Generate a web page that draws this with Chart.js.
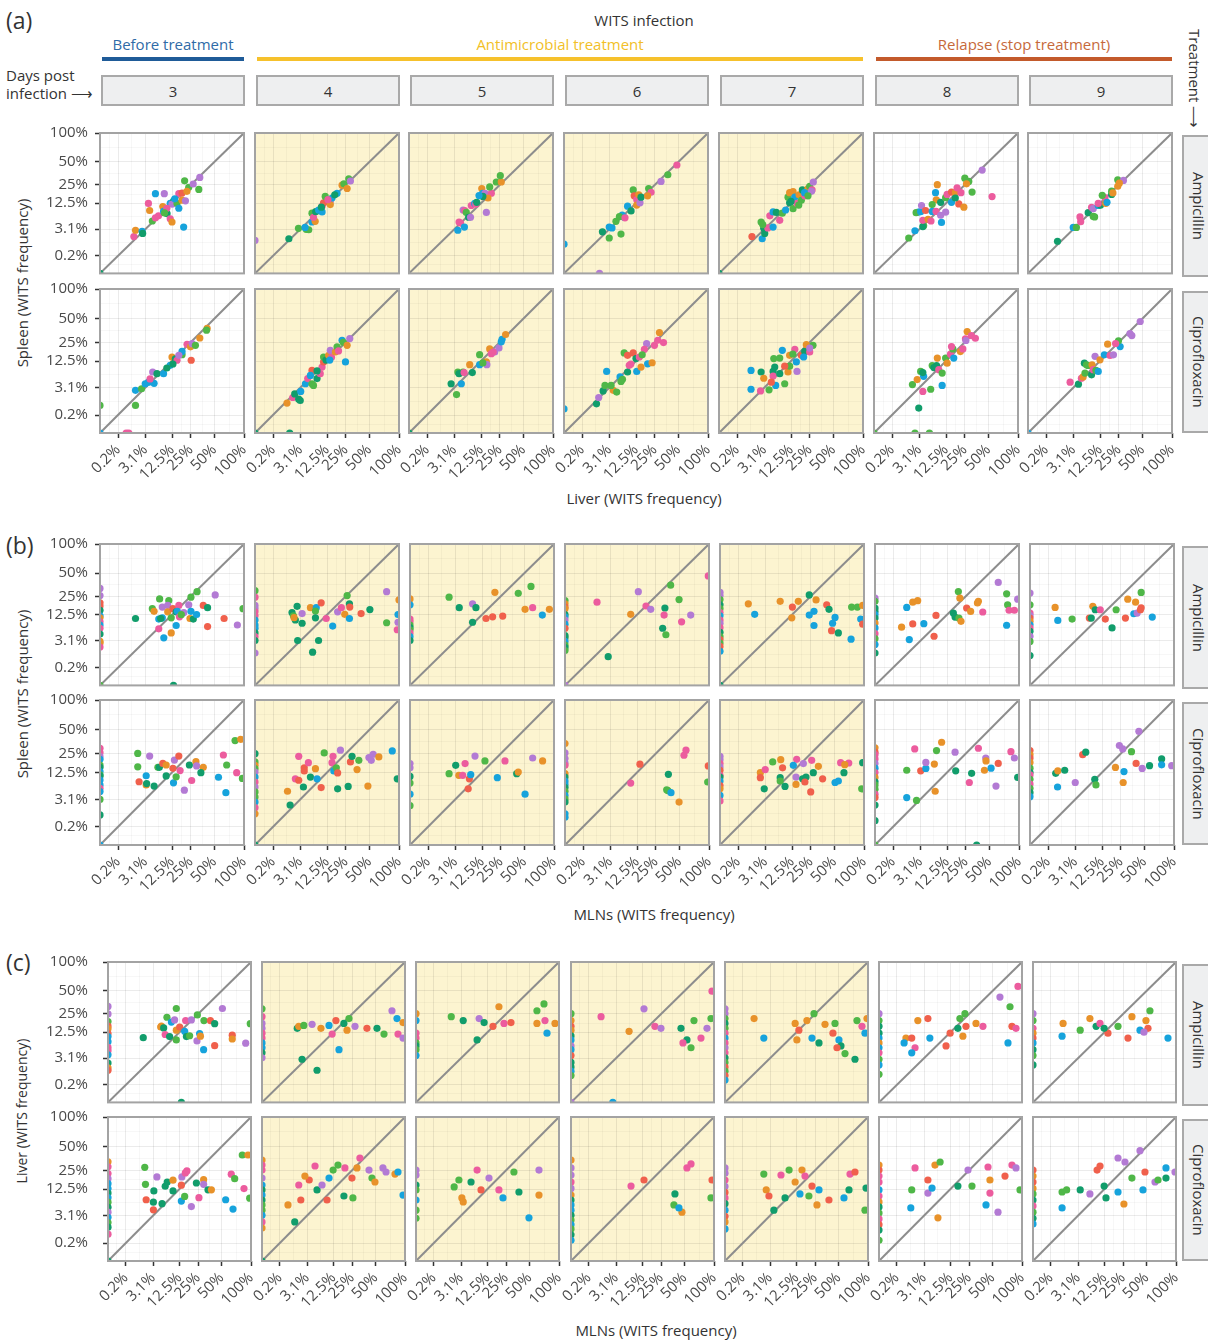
<!DOCTYPE html>
<html>
<head>
<meta charset="utf-8">
<script src="https://cdn.jsdelivr.net/npm/chart.js@4.4.1/dist/chart.umd.min.js"></script>
<style>
body { margin: 0; background: #fff; }
#fig { position: relative; width: 1208px; height: 1342px; overflow: hidden; font-family: 'Open Sans', sans-serif; color: #333; }
#fig canvas { position: absolute; }
.t { position: absolute; white-space: nowrap; line-height: 1; }
.strip { position: absolute; box-sizing: border-box; background: #eeeff0; border: 2px solid #a9a9a9; display: flex; align-items: center; justify-content: center; font-size: 15px; color: #333; }
.vert { writing-mode: vertical-rl; }
.bar { position: absolute; height: 4px; }
</style>
</head>
<body>
<div id="fig"></div>
<script>
// colour index per mouse
const R = 0, O = 1, G = 2, T = 3, B = 4, P = 5, K = 6;
const colors = ['#f0604c', '#e8922a', '#4fb748', '#119d6b', '#16a3dc', '#b37ad4', '#ec5c9e'];

const days = [3, 4, 5, 6, 7, 8, 9];
const treatments = ['Ampicillin', 'Ciprofloxacin'];
const tickFractions = [1/512, 1/32, 1/8, 1/4, 1/2, 1];
const tickLabels = ['0.2%', '3.1%', '12.5%', '25%', '50%', '100%'];

// (a) spleen vs liver, [liver %, spleen %, mouse]
const a_amp_d3 = [[0,0,T],[1.3,1.8,K],[1.5,2.9,O],[2.5,2.7,B],[2.6,2.3,T],[4.1,9,O],[3.8,12.4,K],[5.7,18.3,B],[8.9,18.3,P],[8.3,10.8,O],[4.8,5.2,G],[5.7,6.2,K],[6.7,6.9,K],[8.6,8.6,B],[10.1,7.7,T],[11.6,5.9,K],[12.5,4.9,O],[11.6,12.4,B],[13.4,13.8,T],[12.5,12,P],[15.3,12.4,G],[16.4,18.3,K],[18.5,18.7,R],[16.4,10,B],[18.5,14.2,O],[20.9,13.8,P],[19.6,3.6,B],[20.3,28.7,G],[23.4,23.1,G],[22,20,O],[27.1,25.8,P],[32.3,21.4,G],[33.3,31.9,P],[14,15,B],[10,10,K],[9,8,G]];
const a_amp_d4 = [[0,1.3,P],[1.3,1.5,T],[2.75,3.3,G],[4.5,3.1,G],[5.2,3.0,G],[4.2,3.5,B],[6.2,4.9,B],[7.3,5.1,O],[6.2,7.9,G],[6.7,6.4,K],[7.5,8.5,T],[8.6,9.2,B],[10.1,11,K],[10.8,12.7,R],[11.6,16.5,G],[14.3,13.6,P],[14.3,11.8,O],[15.3,15.5,B],[18.5,18.6,B],[17,17.5,T],[22.1,24.8,O],[23.5,26,G],[26.2,22.1,O],[27.6,30.6,G],[29.1,28.5,P],[13,14.5,K],[10.1,8.4,B],[9.8,10.5,T]];
const a_amp_d5 = [[3.9,2.9,B],[4.2,4.9,K],[4.6,4.6,K],[5.7,3.6,B],[5.3,9.2,P],[5.8,9,K],[6.3,8.2,G],[7.1,6.4,T],[7.8,6.4,P],[15.5,8.2,P],[8.1,11.3,K],[9.5,12.4,B],[10,12,K],[10.4,13,T],[12.9,22.1,O],[13.4,18.6,B],[14.7,18.6,P],[18.7,18.6,K],[16.5,15.5,O],[17.6,23.4,G],[22.3,27.6,G],[26.3,27.6,O],[25.5,33.7,G],[13.5,16.5,T],[11.5,17,B]];
const a_amp_d6 = [[0,0.9,B],[1.5,0,P],[1.9,2.6,T],[3.1,1.6,G],[3.1,3.6,B],[3.7,3.4,B],[6.2,2.2,G],[4.7,5.1,G],[6.6,7.2,B],[7.3,6.4,B],[5.7,6.6,G],[7.6,6.2,K],[8.6,11,B],[10.1,8.8,T],[11.1,21,G],[11.6,16.9,R],[12.9,14.5,K],[14,17.5,O],[12.9,11.5,O],[14.7,12.7,P],[15.3,16,T],[20.3,22.1,G],[22.1,19.3,K],[19.6,16.9,O],[30.6,28.1,P],[37.5,34.7,G],[48.2,46,K]];
const a_amp_d7 = [[0,0,T],[1.2,1.8,R],[2.7,1.5,B],[3.2,2.3,T],[3.0,3.3,T],[3.9,3.4,K],[2.5,4.9,G],[2.8,4.2,G],[5.3,3.6,B],[4.4,6.9,K],[5.3,8.4,B],[6.3,8.2,T],[7.5,5.4,K],[8.5,7.9,G],[9.9,9.2,B],[11.8,12.7,T],[13.6,9.8,G],[11,16,G],[11.8,19,O],[13.6,19.7,O],[14.6,16,B],[15.9,12.4,K],[17.2,17.5,O],[18.7,14.1,G],[19.4,21,T],[21.1,16.9,K],[23.6,22.1,O],[25,23.9,G],[21,19,B],[17,11.5,G],[27,21,K],[28.1,27.6,P],[26.5,20,P],[23.6,16.9,G],[12.5,13.5,T]];
const a_amp_d8 = [[1.4,1.6,G],[2.3,2.8,B],[4.1,3.9,G],[3.9,3.7,T],[2.9,8.3,B],[2.5,8.1,G],[3.4,8.5,B],[3.6,11.3,P],[4.6,9,R],[3.9,5.4,K],[5.3,5.7,O],[6.2,5.2,K],[7.8,19,B],[8.5,25.2,O],[8.1,14.4,O],[6.6,11.8,G],[6.6,8.6,B],[8,8.6,K],[9.9,13,T],[9.9,7.1,P],[10.3,4.8,B],[12.3,15.7,G],[13.1,17.8,K],[15.6,19.4,R],[12.3,8.3,P],[15.6,13,B],[18.1,19,O],[20.4,12.1,R],[18,15.5,T],[19.2,22.6,K],[24.3,10.5,O],[25.1,31.2,G],[28.5,28.1,G],[26.5,26,O],[31.6,19.4,G],[55.1,16.4,K],[42.4,39.9,P],[22,19,K]];
const a_amp_d9 = [[0.86,1.2,T],[3.1,3.5,B],[3.8,3.5,G],[4.9,5,K],[4.7,6.5,K],[7.3,8.1,T],[9.3,6.7,G],[9.9,6.5,G],[8.6,10.4,K],[9.3,9.8,P],[11.6,11.3,B],[12.8,11.5,T],[11.6,12.4,K],[15.3,15.7,K],[13.7,17.2,G],[15.7,12.4,O],[16.5,13,B],[19.6,17.8,T],[19.6,20.1,G],[20.5,18.8,O],[24.2,23.9,O],[24.2,29.7,G],[29.1,29,P],[25.5,26.5,O]];
const a_cip_d3 = [[0,0.7,G],[0,0,B],[0.6,0,K],[0.8,0,K],[1.5,0.7,G],[1.5,2.6,B],[2.4,2.9,G],[3.1,4.0,B],[3.8,4.4,B],[5.3,4.1,B],[4.2,5.3,K],[4.9,7.6,P],[6.2,7,T],[8.6,7,B],[11.6,10.4,B],[12.5,14.7,O],[10,9.2,T],[14.3,13.7,T],[15.3,12.9,K],[18.5,16.1,G],[18.5,18.2,B],[16.4,15.7,P],[25.4,12.9,R],[22.1,23.4,K],[24.8,21.4,O],[26.2,23.9,P],[29.1,22.6,G],[33.3,28.7,O],[41.2,38.3,O],[40.5,36.4,G],[13,11,T]];
const a_cip_d4 = [[0,0,T],[1.4,0,T],[1.1,0.9,O],[1.8,1.5,K],[2.1,2.0,T],[2.8,1.3,T],[3.1,1.15,T],[3.2,2.4,B],[4.3,4.0,B],[4.9,5.4,K],[6.2,8.2,R],[6.2,4.0,G],[6.7,3.6,G],[8,5.4,T],[5.7,6.4,B],[9.3,7,K],[10.1,9.6,K],[10.8,12,R],[10.8,14.7,G],[12,13,T],[13.4,15.7,O],[14.3,18.9,P],[15,14.5,K],[17.4,17.8,O],[18.5,21.4,G],[19.5,18.5,K],[22.1,26.7,B],[23,25,G],[26.2,22.6,O],[28.5,28.2,P],[24.8,12,B],[8,8,T],[14,13,B]];
const a_cip_d5 = [[0,0,T],[2.5,4.0,T],[3.6,1.9,G],[4.8,4.0,B],[3.9,7.6,G],[5.3,7.6,G],[4.2,7,T],[5.6,7.4,K],[8.5,7.4,T],[7.5,10.7,O],[11.8,10.7,B],[11.8,16.1,G],[15.5,12,O],[15.8,10.7,P],[13.5,11.5,G],[17.6,19.9,O],[18.7,16.7,K],[21.1,17.8,P],[24.4,20.6,P],[26.3,25.4,B],[27,27.5,B],[30.2,32,O],[20,17.8,K]];
const a_cip_d6 = [[0,0.47,B],[1.15,0.83,T],[1.4,1.5,P],[2.0,2.5,T],[2.3,3.6,G],[4.0,2.6,O],[4.9,2.3,G],[3.5,3.6,G],[2.6,7.8,B],[5.9,5.9,B],[6.7,5.2,G],[6.2,4.6,G],[8.6,7.6,T],[7.3,17.2,G],[8.6,15.7,R],[11.1,17.2,R],[9.3,10.4,K],[10,11,K],[12.5,13.8,T],[12.9,7.8,B],[15.3,9.6,O],[14.3,14.7,K],[18.9,23.9,P],[17.4,19.6,K],[19.6,11.1,B],[22.9,11.6,O],[24.8,22.6,K],[27.6,26.7,K],[29.1,34,O],[33,24.8,K],[16,16,G]];
const a_cip_d7 = [[1.1,8.2,B],[2.5,7.6,T],[3.0,5.5,O],[1.1,2.8,B],[2.4,2.5,K],[4.2,2.7,G],[5.3,7.8,T],[5.5,13.8,G],[5.8,9.6,T],[6.1,3.6,B],[5.3,6.2,K],[4.8,4.4,R],[7.5,14.1,G],[7.5,7,T],[9.5,4,G],[11,7.6,O],[11.8,10,G],[9.5,10,R],[8.5,18.9,B],[11.8,15.7,O],[15.5,12,B],[14.6,19.6,K],[13.5,16.5,G],[15.9,7.8,P],[18.7,15.7,R],[21.1,18.2,T],[22.3,23.1,O],[27.8,22.6,G],[25,17.8,K],[20.3,14.7,B],[25,20.5,P]];
const a_cip_d8 = [[0,0,G],[2.3,0,G],[5.7,0,G],[3.0,0.52,T],[10.6,3.6,B],[6.1,2.8,G],[3.9,2.4,K],[1.9,3.8,G],[2.7,5.1,O],[4.1,6.1,B],[3.4,7.8,G],[3.9,7.4,T],[6.6,10.3,G],[7.2,9.4,T],[8.2,10.3,T],[9.1,8.5,K],[10.6,7.2,G],[8.5,14.1,O],[12.3,14.1,G],[13.1,11.4,O],[15,16.4,K],[16.4,19.9,G],[15.6,21.6,K],[17,14.1,B],[21.6,18.1,O],[23.5,19.9,K],[27.1,34.9,O],[25.6,28,K],[26,26.5,P],[31,31,K],[34.9,28.5,K]];
const a_cip_d9 = [[0,0,B],[2.5,4.4,K],[4.3,3.9,T],[5.1,5.5,K],[5.6,5.9,O],[6.2,7.2,G],[6,11.4,T],[6.7,10.6,G],[7.3,10.3,G],[8.6,6.6,T],[8.8,10.6,O],[9.3,8.5,K],[10.1,15.1,P],[10.5,8.2,G],[11.6,7.8,B],[12.5,13.1,O],[14.9,16,B],[16.9,23.5,O],[18.5,15.6,K],[20.9,16,P],[26.2,21.6,B],[24.8,26.2,G],[22.5,24,K],[37.5,31,P],[35.5,33,P],[47.3,46.4,P]];

// (b) spleen vs MLNs, [MLN %, spleen %, mouse]
const b_amp_d3 = [[0,32.3,P],[0,25.6,P],[0,19.9,R],[0,17.7,R],[0,15,T],[0,11.9,B],[0,10.9,O],[0,9.1,K],[0,7.8,B],[0,6.6,K],[0,4.8,T],[0,3.0,O],[0,2.7,O],[0,2.0,K],[0,0,G],[1.5,10.6,T],[4.8,16,G],[5.3,14.4,O],[7.1,22.9,G],[10.9,21.6,G],[8.1,17,P],[10.4,18.1,P],[6.8,10.3,B],[8.1,10.9,B],[7.5,10.6,T],[6.8,6.4,K],[8.7,3.8,B],[12.1,5.1,O],[14.8,7.6,B],[10.4,14.1,O],[12.1,10.9,G],[13,16,R],[16.4,18.1,K],[14.8,14.1,T],[15.5,14.4,B],[16.8,11.4,K],[19.7,13.7,P],[18,12.5,G],[25.2,24.3,G],[23.4,18.5,P],[25.2,14.4,B],[24.4,10.6,O],[27.2,10.3,T],[30.2,12.6,B],[30.6,29.1,G],[36.9,18.1,R],[41.7,16.6,T],[51.2,26.2,P],[41.7,7.2,R],[64,10.6,R],[86.8,7.8,P],[98,16,G],[13.3,0,T]];
const b_amp_d4 = [[0,30.1,G],[0,24.3,K],[0,18.1,P],[0,16,P],[0,14.1,K],[0,11.9,K],[0,9.9,B],[0,7.8,B],[0,6.6,B],[0,5.1,T],[0,4.1,K],[0,3.2,T],[0,1.2,P],[1.7,13.7,T],[1.9,11.9,G],[2.2,9.9,T],[2.0,11,O],[2.5,17.5,T],[3.5,13.1,P],[3.5,8.5,T],[2.6,3.2,T],[6.4,1.3,T],[8.6,3.2,T],[5.7,16.6,O],[7.7,16.6,B],[7.4,14.5,G],[7.4,10.9,T],[9.7,19.9,R],[12.1,10.6,K],[15.7,7.4,B],[18.9,14.1,P],[21.6,16.6,K],[26.2,25.6,G],[28.2,19.2,T],[28.5,17,R],[24.2,12.7,O],[28.2,10.6,B],[40,13.1,R],[50.8,15.4,T],[76.4,29.1,P],[76.4,8.7,G],[100,22.1,O],[98,12.6,B],[98,8.9,P],[96.4,6.1,K]];
const b_amp_d5 = [[0,22.9,O],[0,18.5,B],[0,10.3,K],[0,9.1,K],[0,7.8,G],[0,6.8,T],[0,6.1,G],[0,5.1,K],[0,4.1,B],[0,3.2,T],[2.0,24.3,G],[4,16.6,T],[8.2,19.2,P],[9.6,16.6,T],[8.2,8.9,T],[20.5,28.5,O],[14.7,10.6,R],[18.9,11.4,R],[26.7,11.8,R],[42.5,27.6,G],[59.3,34.3,G],[51,15.6,O],[61.8,16.6,K],[90.7,15.6,O],[77.6,12.3,B]];
const b_amp_d6 = [[0,21.6,G],[0,19.2,O],[0,17,R],[0,16,O],[0,12.6,T],[0,11.4,B],[0,9.9,P],[0,8.1,B],[0,6.6,R],[0,4.4,T],[0,3.8,T],[0,3,B],[0,2.3,G],[0,1.9,T],[0,1.5,G],[0,0,P],[1.1,20.4,K],[2.7,0.84,T],[9.5,12.7,O],[13.2,29.1,P],[17.8,17.7,K],[21.1,15.6,P],[39.5,35.6,G],[33.4,16.4,T],[32.6,12.3,K],[31.2,6.6,T],[34.4,4.6,G],[49.7,22.4,G],[53.1,9.1,K],[66.5,12.3,P],[98.5,46.4,K]];
const b_amp_d7 = [[0,28.5,P],[0,25.6,P],[0,22.4,G],[0,18.5,T],[0,16,G],[0,13.7,K],[0,11.9,B],[0,9.9,K],[0,8.5,P],[0,6.8,K],[0,5.3,T],[0,4.1,G],[0,3.4,R],[0,2.7,G],[0,2.1,R],[0,1.4,B],[0,0,T],[1.4,12.7,B],[0.76,19.2,O],[7.3,21,O],[16.1,21,O],[12.7,17,R],[12.4,10.9,O],[23.8,26.2,T],[29.7,22.1,O],[27.8,14.4,B],[23.8,12.3,B],[27.8,7.6,B],[40.7,18.5,R],[43.4,15.6,T],[51,11.1,B],[47.8,8.5,B],[46.5,5.8,R],[55.5,5.1,T],[75.4,3.5,B],[76.4,17,G],[86.8,17,G],[97.3,18.1,O],[93.3,10.3,B],[97.3,8.1,R]];
const b_amp_d8 = [[0,23.5,P],[0,21,G],[0,16.4,T],[0,14.3,T],[0,12.5,B],[0,10.8,T],[0,8.6,O],[0,6.7,B],[0,4.9,K],[0,3.6,G],[0,2.4,B],[0,1.2,T],[0.63,7,O],[1.07,16.8,B],[1.8,20.4,O],[2.6,21.5,O],[1.8,8.2,R],[1.35,3.4,B],[3.9,8.3,B],[7.6,12.1,R],[6.9,4.2,R],[16.1,13.4,T],[17.2,11.3,T],[19.8,10.8,G],[21.3,9.3,O],[19.4,29.3,G],[20.5,23.5,O],[25.8,16.4,R],[29.3,14.3,O],[37,21,O],[36,19.8,O],[41.9,14,K],[62.7,38.6,P],[76.4,27.2,G],[78.1,18.5,G],[80.7,15,K],[90.7,15,K],[97.3,22.7,P],[76.4,7.7,B]];
const b_amp_d9 = [[0,27.8,P],[0,18.5,G],[0,13.4,K],[0,12,P],[0,10.8,R],[0,9.3,O],[0,7.9,B],[0,6.7,K],[0,5.6,T],[0,4.2,P],[0,3,G],[0,0.94,T],[0.53,16.8,O],[0.72,9.7,B],[2.5,10.3,G],[7,10.8,R],[7.7,10.8,T],[8.3,17.5,O],[9.3,15.3,T],[11.6,15.3,K],[14.3,10.3,R],[21.4,15.3,G],[18.5,6.7,T],[29.1,10.8,R],[31.3,22.7,O],[39.4,20.4,O],[46,28.4,G],[37.5,13,B],[41.2,13.4,P],[45.1,15.3,R],[46,16.5,R],[61.2,11.3,B]];
const b_cip_d3 = [[0,29.6,K],[0,25.8,K],[0,22.6,P],[0,20.6,B],[0,16.8,G],[0,15.4,T],[0,13,B],[0,11.3,G],[0,10.8,T],[0,9,B],[0,7.1,B],[0,6,K],[0,5,B],[0,3.1,G],[0,0.89,T],[0,0,B],[1.8,25.2,G],[1.8,15.7,G],[2.0,8.3,R],[3.3,7.1,O],[3.4,7.6,T],[3.3,10.9,B],[5.3,6.7,T],[4.1,23.1,P],[6.5,15.4,G],[7,15.4,T],[8.3,17.8,R],[9.7,16.8,O],[9.7,10.8,T],[13,14.8,R],[13.8,20.1,P],[13.3,7.9,B],[14.8,10.4,G],[16.4,23.1,R],[17.2,13.5,K],[20.1,5.4,P],[23.9,16.8,T],[29.6,19,O],[30.2,16.2,P],[36.9,15.4,O],[34.4,12.4,T],[25.8,8.8,K],[55.7,10.2,B],[62.9,23.9,K],[68.1,16.8,G],[66.8,4.7,B],[85.5,12.4,K],[82.5,37.3,G],[93.3,38.7,O],[96.7,9.7,G]];
const b_cip_d4 = [[0,25,T],[0,18.8,G],[0,16.6,O],[0,14.6,G],[0,12.7,P],[0,10.3,B],[0,8.2,K],[0,6.4,P],[0,4.9,G],[0,3.6,G],[0,2.6,B],[0,1.7,K],[0,1.0,O],[0,0,T],[1.15,5.1,O],[1.45,2.1,T],[2.2,9.5,K],[2.8,8.9,R],[2.8,22.9,K],[3.8,6.4,T],[4,15.1,R],[4,13.3,R],[5.1,18.3,K],[7.4,14.6,O],[5.7,10.3,T],[8,9.5,B],[11.1,25.6,G],[9.7,6.2,R],[15.9,22.9,K],[15.3,18.3,K],[16.4,13.3,B],[18,15.1,G],[18.9,12.3,R],[20.9,28,P],[18.9,5.8,T],[29.1,18.8,R],[30.6,22.9,T],[27.1,6.6,T],[37.5,19.9,G],[35.6,14.1,O],[48.2,6.7,O],[49.5,21.9,P],[52.6,19.9,P],[55.3,24.5,P],[63.6,22.4,O],[86.6,27.3,B],[96.4,9.5,T]];
const b_cip_d5 = [[0,17.7,P],[0,15.1,P],[0,10.6,T],[0,7.8,G],[0,4.3,B],[0,2.0,G],[2.0,11.9,G],[3.2,16.6,T],[3.9,11.1,O],[5.6,17.7,K],[4.9,11.1,K],[9.2,23.1,P],[7,9.5,R],[6.6,5.8,R],[7.5,11.4,B],[14.1,19.5,G],[28.7,19.5,K],[22.3,10,B],[40.7,11.9,T],[42.5,12.7,O],[51,4.3,B],[61.8,21.6,P],[78.1,19.5,O]];
const b_cip_d6 = [[0,34.3,O],[0,25.6,P],[0,21.2,P],[0,18.1,P],[0,16.6,K],[0,11.9,O],[0,10.3,T],[0,8.6,B],[0,7.3,B],[0,6.2,T],[0,5.1,G],[0,4,B],[0,3.2,G],[0,2.6,T],[0,1.0,B],[0,0.7,B],[14.1,17.3,R],[9.5,7.8,K],[56.4,23.7,K],[59.3,28,K],[37,11.6,T],[35.2,5.5,G],[36.5,5.3,G],[39.9,4.7,B],[49.7,2.6,O],[98.5,16.2,R],[97.3,8.2,G]];
const b_cip_d7 = [[0,22.9,P],[0,20.4,P],[0,17.7,K],[0,15.6,P],[0,13.7,R],[0,11.1,K],[0,10.3,T],[0,8.6,B],[0,6.9,R],[0,5.8,O],[0,4,B],[0,2.8,K],[2.2,12.4,O],[3.1,14.1,K],[2.2,10,R],[2.9,5.8,T],[4.9,18.8,G],[7.5,20.4,O],[8.2,15.1,R],[7.3,10,T],[7.3,8.6,G],[9.2,6.6,T],[15.1,20.6,K],[13.2,16.6,B],[19.4,17.7,P],[14.7,10.3,P],[18.9,9.5,T],[21.3,10.3,T],[14.7,7.3,O],[20.5,8.2,R],[25.8,19.9,K],[31.9,16,O],[27.2,12.4,T],[36.2,9.5,R],[25,4.9,R],[51,8,B],[55.5,8.6,B],[63.8,12.4,T],[58.8,18.3,K],[71.5,18.1,K],[65,17,O],[97.3,18.3,T],[95.3,5.8,G]];
const b_cip_d8 = [[0,30.1,O],[0,26.2,R],[0,24.2,K],[0,20.9,K],[0,17.8,P],[0,14.9,B],[0,12.5,K],[0,10.1,O],[0,8.3,T],[0,7.1,G],[0,5.7,G],[0,4.3,K],[0,3.5,R],[0,2.1,T],[0,0.47,T],[0,0,G],[1.07,13.7,G],[1.07,3.5,B],[2.4,2.9,G],[2.1,29.1,K],[3.2,13.4,R],[4.4,14.7,B],[4.4,18.5,P],[7,17.4,O],[7.8,27.6,G],[9.9,35.6,O],[7.3,5.1,O],[17.2,26.2,P],[17.6,13.4,T],[30.2,12.1,T],[28.1,8,K],[37,29.7,K],[45.5,21.6,P],[45.8,19.5,O],[43.9,13.7,O],[52.4,14.9,B],[62.7,17.8,R],[59.3,6.7,P],[84.1,26.7,K],[90.7,21.6,P],[97.3,10.1,T],[35.2,0,T]];
const b_cip_d9 = [[0,27.6,R],[0,24.2,O],[0,21.6,R],[0,18.5,O],[0,14.9,G],[0,12.5,T],[0,11.3,K],[0,9.3,G],[0,7.4,K],[0,6,G],[0,4.7,T],[0,3.7,B],[0.57,12.1,T],[0.72,13.4,O],[1.4,13.7,T],[0.7,6.4,B],[3.1,8,P],[4.9,24.2,R],[5.8,26.2,T],[9.1,9.3,T],[9.6,7.1,G],[20.9,15.3,O],[27.8,13,B],[27.1,8,O],[23.9,32.3,P],[26.7,29.1,P],[35,26.7,G],[43.2,48.2,P],[40,17.8,R],[47.3,14.7,P],[57.2,16.4,T],[76.4,20.9,T],[76.4,16.9,B],[95.3,16.4,P]];

// (c) liver vs MLNs, [MLN %, liver %, mouse]
const c_amp_d3 = [[0,31.9,P],[0,25,P],[0,19.1,G],[0,16.1,R],[0,14.5,O],[0,11.8,R],[0,10.3,B],[0,8.1,B],[0,6,K],[0,5,K],[0,3.9,B],[0,2.2,T],[0,1.5,O],[0,1.2,R],[1.5,9.8,T],[5.2,16.1,O],[5,15.5,O],[5.9,14.9,T],[7,22.3,G],[8.7,18.7,B],[10.1,20.3,P],[10.9,29.9,G],[6.4,11.3,K],[8,10.3,T],[10.9,8.8,G],[10.9,13.6,O],[12.6,15.5,R],[15.4,13,B],[16,19.8,K],[19.8,20.3,P],[16.5,10.3,T],[18.6,10.7,G],[24.1,8.4,P],[24.4,24.2,G],[26.3,11.8,B],[27,10.5,O],[30.2,19.8,G],[36.7,19.8,R],[29.9,5.3,B],[41.5,17.6,T],[41.5,6.6,R],[51.2,29.9,P],[65.6,11,R],[65.6,9.2,O],[89.3,7.5,P],[98.5,17.6,G],[13.5,0,T]];
const c_amp_d4 = [[0,29.6,G],[0,22.8,K],[0,17.8,P],[0,14.7,P],[0,12,K],[0,9.6,K],[0,7.6,B],[0,5.9,B],[0,4.4,T],[0,3.2,P],[1.5,14.7,T],[2.2,2.9,T],[5.7,1.2,T],[1.7,15.9,O],[2.5,16.5,G],[4.3,17.2,P],[7,14.7,O],[10.3,16.5,B],[11.8,11.5,K],[13.8,19.8,R],[18.8,17.8,T],[22.5,21.3,G],[27.5,15.9,P],[15.6,5.3,B],[21,13.6,O],[39.5,14.7,R],[52,14.7,T],[84.1,21.3,B],[86,11.5,K],[95.9,9.6,P],[95.9,18.4,O],[62.1,11.5,G],[75.1,27.8,P]];
const c_amp_d5 = [[0,25.2,O],[0,19.8,B],[0,12,K],[0,9.6,K],[0,7.6,G],[0,6.5,T],[0,5.3,G],[0,3.7,B],[1.5,22.8,G],[3.6,19.8,T],[8.6,21.3,P],[10.8,18.4,T],[7.8,8.8,T],[19.5,31.6,O],[15.6,15.9,R],[23.3,17.8,K],[29.3,18.4,R],[60.5,27.8,G],[71.7,34.5,G],[60.5,17.8,O],[73.4,19.8,K],[91.8,17.8,O],[76.9,12,B]];
const c_amp_d6 = [[0,25.2,G],[0,19.8,O],[0,15.9,R],[0,13.6,O],[0,10.6,T],[0,8.8,B],[0,6.5,P],[0,5.3,B],[0,3.7,R],[0,2.3,T],[0,1.6,T],[0,1.1,B],[0,0.7,G],[0,0,P],[0.93,22.8,K],[2.5,0,B],[6.7,13,O],[13.3,29.6,P],[20.2,15.9,K],[24.9,14.7,P],[45.5,14.7,T],[63.6,19.8,G],[53.3,8.8,T],[59.1,5.9,G],[48,7.6,K],[93.8,21.3,G],[86,14.7,P],[75.1,9.6,K],[95.9,49.7,K]];
const c_amp_d7 = [[0,29.6,P],[0,25.2,P],[0,21.3,G],[0,17.8,T],[0,14.7,G],[0,12,K],[0,9.6,B],[0,7.6,K],[0,5.9,P],[0,4.4,K],[0,3.2,T],[0,2.3,G],[0,1.6,R],[0,1.1,G],[0,0.7,R],[0,0.4,B],[0.84,21.3,O],[2,9.6,B],[11.8,17.8,O],[13.8,13.6,R],[12.7,8.8,O],[18.8,19.8,O],[24.1,25.2,G],[22.5,9.6,B],[28.4,7.6,T],[34.2,17.2,O],[43,12,R],[45.5,17.8,G],[50.6,8.8,B],[53.3,6.5,T],[48,5.9,R],[59.1,4.2,G],[75.1,2.9,T],[78.6,19.8,G],[87.9,15.9,K],[97.9,21.3,O],[93.8,12,B]];
const c_amp_d8 = [[0,25.2,P],[0,19.8,G],[0,15.9,T],[0,12,T],[0,9.6,B],[0,7.6,O],[0,5.9,B],[0,4.4,K],[0,2.9,G],[0,1.9,B],[0,0.8,G],[0.67,9.6,O],[0.54,7.6,B],[1.6,5.9,K],[1.2,4.4,B],[1.2,9.6,R],[2,19.8,O],[4,21.3,R],[4.5,9.6,B],[10.3,6.5,R],[12.3,12,R],[16.8,14.7,T],[18.1,21.3,G],[21.7,25.2,G],[20.2,10.5,O],[22.5,15.9,R],[31.2,17.8,O],[38.4,15.9,K],[60.5,42.2,P],[76.9,31.6,G],[80.4,15.9,R],[91.8,56.4,K],[73.4,7.6,B],[87.9,14.7,K]];
const c_amp_d9 = [[0,25.2,P],[0,19.8,G],[0,14.7,K],[0,12,O],[0,9.6,R],[0,7.6,B],[0,5.3,T],[0,3.7,G],[0,1.9,T],[0.93,17.8,O],[0.84,10.5,B],[3.6,13.6,G],[6.3,21.3,O],[8.6,15.9,T],[10.3,17.8,K],[14.4,12,R],[12.3,14.7,T],[21,15.9,G],[29.3,9.6,R],[33.1,22.8,O],[49.3,19.8,O],[54.7,27.8,G],[41.9,13.6,B],[52,14.7,R],[46.7,12.5,P],[84.1,9.6,B]];
const c_cip_d3 = [[0,32.7,O],[0,28,K],[0,22.4,K],[0,18.7,P],[0,15.5,B],[0,12.7,B],[0,10.5,T],[0,8.5,B],[0,6.8,G],[0,5.2,T],[0,3.9,P],[0,2.8,B],[0,1.9,G],[0,1.3,T],[0,0.65,K],[0,0,T],[1.7,27.5,G],[1.8,15.1,G],[1.9,7.7,R],[3.3,11.5,T],[3.2,6.8,T],[3.2,4.5,R],[5.4,6.3,T],[4,19.9,P],[6.4,14,T],[7.1,16.5,T],[9.4,11.5,T],[9.4,17.7,O],[13.5,14.6,R],[13.8,19.9,P],[15.8,22.9,K],[16.8,24.5,K],[13.5,7.2,B],[15.4,9,G],[19.8,5.4,P],[25.7,8.5,K],[23.6,15.9,T],[29.9,18,O],[29.9,15.1,P],[34.2,12.1,T],[37.8,12.1,O],[55.7,7.7,B],[64,21.9,K],[69.5,18.7,G],[86,12.7,K],[66.8,4.7,B],[82.8,39.9,G],[93.8,39.9,O],[97.3,8.3,G]];
const c_cip_d4 = [[0,34.5,O],[0,29.6,K],[0,25.2,K],[0,19.1,P],[0,14.7,B],[0,12,T],[0,9.6,B],[0,7.6,T],[0,5.9,G],[0,4.4,G],[0,3.2,B],[0,2,K],[0,1.2,O],[0,0,T],[1.2,2,T],[0.6,5.9,O],[2,7.6,R],[1.7,14.7,K],[3.6,17.8,R],[2.7,20.5,O],[5.1,28.7,K],[5.7,12,T],[7.4,14.7,P],[10.3,19.1,B],[12.3,25.2,G],[9.4,7.6,R],[15,29.6,G],[19.5,27,K],[18.8,9.2,T],[25.7,8.4,G],[24.9,19.1,R],[29.3,27,O],[32.1,36.6,K],[41.9,25.2,P],[45.5,19.1,G],[49.3,16.5,O],[60.5,27,P],[65.2,23.6,P],[80.4,22,O],[86,23.6,B],[95.9,9.6,B]];
const c_cip_d5 = [[0,25.2,P],[0,21.3,P],[0,14.7,T],[0,12,G],[0,7.6,B],[0,4.4,G],[0,2.6,G],[1.9,13.6,G],[3.3,8.4,O],[3.6,6.9,O],[7.8,25.2,K],[5.7,16.5,T],[9.4,12,R],[2.7,17.8,G],[13.3,19.1,P],[19.5,12,K],[22.5,8.4,B],[32.1,23.6,G],[49.3,2.7,B],[63.6,9.6,O],[63.6,25.2,P],[37.3,11,T]];
const c_cip_d6 = [[0,34.5,O],[0,27,P],[0,21.3,P],[0,16.5,K],[0,12.8,P],[0,9.6,O],[0,7.6,T],[0,5.9,B],[0,4.4,B],[0,3.2,T],[0,2.3,G],[0,1.6,B],[0,1.1,G],[0,0.6,T],[0,0.3,B],[7.4,14.1,K],[13.3,17.8,R],[53.3,27,K],[59.1,30.6,K],[38.4,10.1,T],[37.3,5.9,G],[46.7,3.9,O],[43,5,B],[95.9,17.8,R],[93.8,8.4,G]];
const c_cip_d7 = [[0,27,P],[0,22.7,P],[0,17.8,K],[0,13.9,P],[0,10.8,R],[0,8.4,K],[0,6.3,T],[0,4.4,B],[0,3,R],[0,2,O],[0,1.1,B],[2.4,12,O],[2.9,9.2,R],[2,22,G],[4,4.4,T],[6,21.3,K],[7.4,8.4,T],[9,25.2,G],[11.8,16.5,O],[15.6,25.2,O],[17.5,20.5,K],[14.4,10.1,B],[20.2,9.2,G],[22.5,14.1,R],[28.4,12,B],[26.6,5.9,O],[38.4,7.6,R],[57.6,8.4,B],[65.2,12,T],[66.8,22,K],[75.1,23.6,R],[95.9,13,T],[93.8,4.4,G]];
const c_cip_d8 = [[0,29.6,O],[0,25.2,R],[0,20.5,K],[0,16.5,K],[0,12,B],[0,9.2,K],[0,6.9,O],[0,5.3,T],[0,3.7,G],[0,2.5,K],[0,1.6,R],[0,1,T],[0,0.3,G],[1.2,12,G],[1.1,5,B],[1.6,27,K],[4,17.8,R],[4,10.5,P],[6,29.6,O],[7.8,32.5,G],[7,2.7,O],[5.1,13,B],[16.8,14.1,T],[27.5,14.1,G],[24.1,25.2,P],[44.3,27.8,K],[46.7,17.8,O],[41.9,5.9,B],[46.7,10.5,K],[57.6,3.9,P],[68.4,20.5,R],[80.4,29.6,K],[87.9,27,P],[95.9,12,G]];
const c_cip_d9 = [[0,25.2,R],[0,20.5,O],[0,16.5,R],[0,12.8,O],[0,10.1,G],[0,7.6,T],[0,5.6,K],[0,3.9,G],[0,2.6,T],[0,1.7,B],[0.84,11,G],[1.3,12,G],[0.84,5,B],[3.6,12,T],[6.3,10.1,P],[9,25.2,R],[10.3,28.7,R],[12.3,14.1,T],[13.3,8.4,T],[21,11,B],[21,36.6,P],[26.6,32.5,P],[25.7,6.2,O],[33.1,19.1,G],[41.9,45,P],[48,23.6,R],[45.5,12,B],[62.1,16.5,P],[66.8,17.8,G],[80.4,27,B],[80.4,19.1,T],[97.9,23.6,P]];

const sections = [
  { tag: '(a)', tagY: 20, xTitle: 'Liver (WITS frequency)', yTitle: 'Spleen (WITS frequency)',
    panels: [[a_amp_d3, a_amp_d4, a_amp_d5, a_amp_d6, a_amp_d7, a_amp_d8, a_amp_d9],
             [a_cip_d3, a_cip_d4, a_cip_d5, a_cip_d6, a_cip_d7, a_cip_d8, a_cip_d9]],
    left: 100, pitch: 154.7, w: 144, h: 144, tops: [133, 289], yPad: 7, xTitleAt: [644, 498], yTitleAt: [22, 283], yTitleSize: 15 },
  { tag: '(b)', tagY: 545, xTitle: 'MLNs (WITS frequency)', yTitle: 'Spleen (WITS frequency)',
    panels: [[b_amp_d3, b_amp_d4, b_amp_d5, b_amp_d6, b_amp_d7, b_amp_d8, b_amp_d9],
             [b_cip_d3, b_cip_d4, b_cip_d5, b_cip_d6, b_cip_d7, b_cip_d8, b_cip_d9]],
    left: 100, pitch: 155, w: 144, h: 145, tops: [544, 700], yPad: 7, xTitleAt: [654, 914], yTitleAt: [22, 694], yTitleSize: 15 },
  { tag: '(c)', tagY: 962, xTitle: 'MLNs (WITS frequency)', yTitle: 'Liver (WITS frequency)',
    panels: [[c_amp_d3, c_amp_d4, c_amp_d5, c_amp_d6, c_amp_d7, c_amp_d8, c_amp_d9],
             [c_cip_d3, c_cip_d4, c_cip_d5, c_cip_d6, c_cip_d7, c_cip_d8, c_cip_d9]],
    left: 108, pitch: 154.2, w: 143, h: 144, tops: [962, 1117], yPad: 15, xTitleAt: [656, 1330], yTitleAt: [22, 1111], yTitleSize: 14 }
];

const phases = [
  { label: 'Before treatment', from: 0, to: 0, bar: '#1f5b98', text: '#2f6ba7' },
  { label: 'Antimicrobial treatment', from: 1, to: 4, bar: '#f6c12c', text: '#f2bf28' },
  { label: 'Relapse (stop treatment)', from: 5, to: 6, bar: '#c35a2b', text: '#c6693b' }
];

const fig = document.getElementById('fig');

function txt(s, x, y, o = {}) {
  const d = document.createElement('div');
  d.className = 't';
  d.textContent = s;
  d.style.left = x + 'px';
  d.style.top = y + 'px';
  d.style.fontSize = (o.size || 15) + 'px';
  if (o.color) d.style.color = o.color;
  const ax = o.align === 'left' ? '0' : '-50%';
  d.style.transform = `translate(${ax}, -50%)`;
  fig.appendChild(d);
  return d;
}

const cube = p => Math.cbrt(p / 100);
const majors = tickFractions.map(Math.cbrt);
const minors = [majors[0] / 2].concat(majors.slice(1).map((m, i) => (m + majors[i]) / 2));
const allTicks = majors.concat(minors).sort((a, b) => a - b);
const majorIndex = v => majors.findIndex(m => Math.abs(m - v) < 1e-6);

const panelDeco = {
  id: 'panelDeco',
  beforeDraw(chart, args, opts) {
    const a = chart.chartArea, c = chart.ctx;
    c.save();
    c.fillStyle = opts.bg;
    c.fillRect(a.left, a.top, a.right - a.left, a.bottom - a.top);
    c.restore();
  },
  afterDraw(chart) {
    const a = chart.chartArea, c = chart.ctx;
    c.save();
    c.strokeStyle = '#a3a3a3';
    c.lineWidth = 2;
    c.strokeRect(a.left, a.top, a.right - a.left, a.bottom - a.top);
    c.restore();
  }
};

function axis(isX, showLabels, size, pad) {
  return {
    type: 'linear', min: 0, max: 1,
    afterBuildTicks: s => { s.ticks = allTicks.map(v => ({ value: v })); },
    afterFit: s => {
      if (isX) s.height = size; else s.width = size;
      s.paddingLeft = 0; s.paddingRight = 0; s.paddingTop = 0; s.paddingBottom = 0;
    },
    border: { display: false },
    grid: {
      color: c => (c.tick && majorIndex(c.tick.value) >= 0) ? 'rgba(0,0,0,0.08)' : 'rgba(0,0,0,0.03)',
      lineWidth: 1,
      drawTicks: showLabels,
      tickLength: 5,
      tickWidth: 1.5,
      tickColor: c => (c.tick && majorIndex(c.tick.value) >= 0) ? '#333' : 'rgba(0,0,0,0)'
    },
    ticks: {
      display: showLabels, autoSkip: false,
      minRotation: isX ? 45 : 0, maxRotation: isX ? 45 : 0,
      padding: pad, color: '#4a4a4a',
      font: { family: 'Open Sans', size: 15 },
      callback: v => { const i = majorIndex(v); return i >= 0 ? tickLabels[i] : ''; }
    }
  };
}

function panel(sec, row, col, pts) {
  const x0 = Math.round(sec.left + col * sec.pitch), y0 = sec.tops[row];
  const padL = col === 0 ? x0 : 16, padT = 12, padR = 10, padB = row === 1 ? 66 : 0;
  const cv = document.createElement('canvas');
  cv.width = padL + sec.w + padR;
  cv.height = padT + sec.h + padB;
  cv.style.left = (x0 - padL) + 'px';
  cv.style.top = (y0 - padT) + 'px';
  fig.appendChild(cv);
  const bg = (col >= 1 && col <= 4) ? '#fcf4d0' : '#ffffff';
  new Chart(cv, {
    type: 'scatter',
    data: {
      datasets: [
        { data: pts.map(p => ({ x: cube(p[0]), y: cube(p[1]) })),
          backgroundColor: pts.map(p => colors[p[2]]),
          pointRadius: 3.6, pointHoverRadius: 3.6, pointBorderWidth: 0 },
        { data: [{ x: 0, y: 0 }, { x: 1, y: 1 }], showLine: true,
          borderColor: '#8d8d8d', borderWidth: 2, pointRadius: 0 }
      ]
    },
    options: {
      responsive: false, animation: false, devicePixelRatio: 1,
      layout: { padding: { top: padT, right: padR, left: 0, bottom: 0 } },
      plugins: { legend: { display: false }, tooltip: { enabled: false }, panelDeco: { bg } },
      scales: {
        x: axis(true, row === 1, padB, 3),
        y: axis(false, col === 0, padL, sec.yPad)
      }
    },
    plugins: [panelDeco]
  });
}

// header
txt('WITS infection', 644, 20, { size: 15 });
txt('Days post', 6, 75, { size: 15, align: 'left' });
txt('infection \u27f6', 6, 93, { size: 15, align: 'left' });
const secA = sections[0];
phases.forEach(ph => {
  const xl = Math.round(secA.left + ph.from * secA.pitch) + 2;
  const xr = Math.round(secA.left + ph.to * secA.pitch) + secA.w;
  const b = document.createElement('div');
  b.className = 'bar';
  b.style.left = xl + 'px'; b.style.width = (xr - xl) + 'px';
  b.style.top = '57px'; b.style.background = ph.bar;
  fig.appendChild(b);
  txt(ph.label, (xl + xr) / 2, 44, { size: 15, color: ph.text });
});
days.forEach((d, i) => {
  const s = document.createElement('div');
  s.className = 'strip';
  s.style.left = (Math.round(secA.left + i * secA.pitch) + 1) + 'px';
  s.style.width = secA.w + 'px';
  s.style.top = '75px'; s.style.height = '31px';
  s.textContent = d;
  fig.appendChild(s);
});
const tr = document.createElement('div');
tr.className = 't vert';
tr.style.cssText += 'left:1187px;top:29px;font-size:15px;';
tr.textContent = 'Treatment \u27f6';
fig.appendChild(tr);

sections.forEach(sec => {
  txt(sec.tag, 6, sec.tagY, { size: 23, align: 'left' });
  txt(sec.xTitle, sec.xTitleAt[0], sec.xTitleAt[1], { size: 15 });
  const yt = txt(sec.yTitle, sec.yTitleAt[0], sec.yTitleAt[1], { size: sec.yTitleSize });
  yt.style.transformOrigin = 'center';
  yt.style.transform = 'translate(-50%, -50%) rotate(-90deg)';
  sec.panels.forEach((rowData, r) => {
    rowData.forEach((pts, c) => panel(sec, r, c, pts));
    const s = document.createElement('div');
    s.className = 'strip vert';
    s.style.left = '1182px'; s.style.width = '34px';
    s.style.top = (sec.tops[r] + 2) + 'px';
    s.style.height = (sec.h - 2) + 'px';
    s.textContent = treatments[r];
    fig.appendChild(s);
  });
});
</script>
</body>
</html>
